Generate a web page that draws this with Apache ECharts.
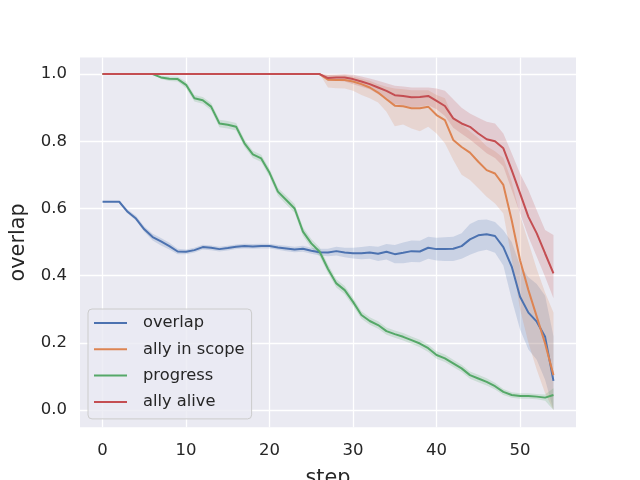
<!DOCTYPE html>
<html>
<head>
<meta charset="utf-8">
<script src="https://cdn.jsdelivr.net/npm/echarts@6/dist/echarts.min.js"></script>
<style>html,body{margin:0;padding:0;background:#fff}#c{width:640px;height:480px}</style>
</head>
<body>
<div id="c"></div>
<script>
const steps = [0,1,2,3,4,5,6,7,8,9,10,11,12,13,14,15,16,17,18,19,20,21,22,23,24,25,26,27,28,29,30,31,32,33,34,35,36,37,38,39,40,41,42,43,44,45,46,47,48,49,50,51,52,53,54];
const seriesNames = ['overlap','ally in scope','progress','ally alive'];
const xTicks = [0,10,20,30,40,50];
const yTicks = [0,0.2,0.4,0.6,0.8,1.0];

const overlap = [0.62,0.62,0.62,0.59,0.57,0.538,0.515,0.502,0.488,0.472,0.471,0.476,0.485,0.483,0.479,0.482,0.486,0.488,0.487,0.488,0.488,0.484,0.481,0.478,0.48,0.474,0.47,0.469,0.473,0.469,0.467,0.467,0.469,0.465,0.471,0.464,0.468,0.473,0.472,0.483,0.479,0.479,0.48,0.488,0.508,0.52,0.523,0.518,0.485,0.427,0.337,0.29,0.263,0.218,0.087];
const overlapLo = [0.62,0.62,0.62,0.585,0.564,0.53,0.505,0.49,0.478,0.464,0.464,0.469,0.478,0.476,0.472,0.475,0.479,0.481,0.48,0.481,0.481,0.477,0.473,0.47,0.471,0.465,0.46,0.458,0.46,0.455,0.451,0.449,0.45,0.444,0.448,0.437,0.437,0.441,0.44,0.45,0.445,0.444,0.444,0.45,0.462,0.472,0.477,0.468,0.43,0.33,0.24,0.18,0.15,0.09,0.0];
const overlapHi = [0.62,0.62,0.62,0.597,0.578,0.546,0.525,0.512,0.498,0.48,0.478,0.483,0.492,0.49,0.486,0.489,0.493,0.495,0.494,0.495,0.495,0.491,0.489,0.486,0.489,0.483,0.48,0.48,0.486,0.483,0.483,0.485,0.488,0.486,0.494,0.491,0.499,0.505,0.504,0.516,0.513,0.514,0.516,0.526,0.554,0.566,0.567,0.56,0.535,0.5,0.43,0.395,0.375,0.34,0.22];

const scope = [1,1,1,1,1,1,1,1,1,1,1,1,1,1,1,1,1,1,1,1,1,1,1,1,1,1,1,0.983,0.982,0.982,0.978,0.97,0.96,0.945,0.925,0.906,0.904,0.898,0.898,0.903,0.878,0.863,0.804,0.783,0.766,0.739,0.714,0.704,0.67,0.565,0.446,0.357,0.278,0.198,0.104];
const scopeLo = [1,1,1,1,1,1,1,1,1,1,1,1,1,1,1,1,1,1,1,1,1,1,1,1,1,1,1,0.96,0.958,0.957,0.95,0.938,0.928,0.915,0.888,0.845,0.85,0.838,0.83,0.843,0.823,0.794,0.744,0.7,0.685,0.66,0.635,0.615,0.585,0.45,0.3,0.2,0.12,0.05,0.0];
const scopeHi = [1,1,1,1,1,1,1,1,1,1,1,1,1,1,1,1,1,1,1,1,1,1,1,1,1,1,1,0.997,0.997,0.997,0.993,0.987,0.98,0.97,0.962,0.957,0.955,0.952,0.952,0.952,0.938,0.928,0.87,0.85,0.83,0.81,0.785,0.77,0.75,0.68,0.58,0.5,0.42,0.35,0.29];

const progress = [1,1,1,1,1,1,1,0.99,0.986,0.985,0.968,0.928,0.922,0.903,0.853,0.849,0.843,0.794,0.761,0.749,0.706,0.65,0.625,0.6,0.531,0.496,0.471,0.42,0.377,0.357,0.322,0.283,0.265,0.253,0.235,0.226,0.218,0.208,0.198,0.184,0.164,0.154,0.139,0.124,0.104,0.094,0.084,0.071,0.054,0.045,0.042,0.042,0.04,0.037,0.045];
const progressLo = [1,1,1,1,1,1,1,0.985,0.979,0.978,0.958,0.918,0.912,0.892,0.842,0.838,0.832,0.783,0.75,0.738,0.694,0.638,0.612,0.587,0.518,0.483,0.458,0.407,0.365,0.345,0.31,0.272,0.254,0.242,0.224,0.215,0.207,0.197,0.187,0.173,0.153,0.143,0.128,0.113,0.093,0.083,0.073,0.061,0.045,0.037,0.034,0.034,0.032,0.028,0.0];
const progressHi = [1,1,1,1,1,1,1,0.995,0.993,0.992,0.978,0.938,0.932,0.914,0.864,0.86,0.854,0.805,0.772,0.76,0.718,0.662,0.638,0.613,0.544,0.509,0.484,0.433,0.389,0.369,0.334,0.294,0.276,0.264,0.246,0.237,0.229,0.219,0.209,0.195,0.175,0.165,0.15,0.135,0.115,0.105,0.095,0.081,0.063,0.053,0.05,0.05,0.048,0.046,0.065];

const alive = [1,1,1,1,1,1,1,1,1,1,1,1,1,1,1,1,1,1,1,1,1,1,1,1,1,1,1,0.988,0.99,0.99,0.985,0.978,0.97,0.96,0.95,0.937,0.935,0.931,0.932,0.935,0.92,0.905,0.868,0.853,0.843,0.823,0.806,0.8,0.779,0.714,0.645,0.575,0.526,0.466,0.407];
const aliveLo = [1,1,1,1,1,1,1,1,1,1,1,1,1,1,1,1,1,1,1,1,1,1,1,1,1,1,1,0.98,0.98,0.978,0.97,0.962,0.955,0.94,0.925,0.91,0.907,0.902,0.903,0.907,0.895,0.875,0.84,0.822,0.805,0.785,0.764,0.75,0.725,0.655,0.585,0.516,0.456,0.397,0.333];
const aliveHi = [1,1,1,1,1,1,1,1,1,1,1,1,1,1,1,1,1,1,1,1,1,1,1,1,1,1,1,0.998,0.999,1.0,0.998,0.993,0.987,0.98,0.973,0.965,0.963,0.96,0.96,0.96,0.957,0.95,0.925,0.9,0.883,0.87,0.858,0.853,0.823,0.764,0.704,0.655,0.595,0.536,0.521];

const colors = ['#4C72B0','#DD8452','#55A868','#C44E52'];
const values = [overlap, scope, progress, alive];
const los = [overlapLo, scopeLo, progressLo, aliveLo];
const his = [overlapHi, scopeHi, progressHi, aliveHi];

const FONT = 'DejaVu Sans';
const series = [];
values.forEach((v, k) => {
  series.push({
    type: 'custom',
    silent: true,
    z: 1,
    clip: true,
    data: steps.map((s, i) => [s, v[i]]),
    renderItem: function (params, api) {
      if (params.dataIndex !== 0) return null;
      const pts = [];
      for (let i = 0; i < steps.length; i++) pts.push(api.coord([steps[i], his[k][i]]));
      for (let i = steps.length - 1; i >= 0; i--) pts.push(api.coord([steps[i], los[k][i]]));
      return { type: 'polygon', shape: { points: pts }, style: { fill: colors[k], opacity: 0.2 } };
    }
  });
});
values.forEach((v, k) => {
  series.push({
    name: seriesNames[k],
    type: 'line',
    z: 3,
    showSymbol: false,
    symbol: 'none',
    animation: false,
    color: colors[k],
    lineStyle: { width: 2, color: colors[k] },
    data: steps.map((s, i) => [s, v[i]])
  });
});

const chart = echarts.init(document.getElementById('c'));
chart.setOption({
  animation: false,
  backgroundColor: '#ffffff',
  textStyle: { fontFamily: FONT },
  grid: { left: 80, right: 64, top: 57.6, bottom: 52.8, show: true, backgroundColor: '#EAEAF2', borderWidth: 0, containLabel: false, outerBoundsMode: 'none' },
  xAxis: {
    type: 'value', min: -2.7, max: 56.7,
    name: 'step', nameLocation: 'middle', nameGap: 41,
    nameTextStyle: { fontFamily: FONT, fontSize: 20.8, color: '#262626' },
    axisLine: { show: false },
    axisTick: { show: false, customValues: xTicks },
    axisLabel: { customValues: xTicks, margin: 15, fontFamily: FONT, fontSize: 16.5, color: '#262626' },
    splitLine: { show: true, lineStyle: { color: '#ffffff', width: 1.3 } }
  },
  yAxis: {
    type: 'value', min: -0.051, max: 1.049,
    name: 'overlap', nameLocation: 'middle', nameGap: 51,
    nameTextStyle: { fontFamily: FONT, fontSize: 20.8, color: '#262626' },
    axisLine: { show: false },
    axisTick: { show: false, customValues: yTicks },
    axisLabel: { customValues: yTicks, margin: 13, fontFamily: FONT, fontSize: 16.5, color: '#262626', formatter: v => v.toFixed(1) },
    splitLine: { show: true, lineStyle: { color: '#ffffff', width: 1.3 } }
  },
  legend: {
    data: seriesNames.map(n => ({ name: n, icon: 'rect' })),
    orient: 'vertical',
    left: 88, top: 309,
    itemWidth: 33, itemHeight: 2,
    itemGap: 6.3,
    padding: [4, 7, 7, 6],
    backgroundColor: 'rgba(234,234,242,0.8)',
    borderColor: '#cccccc', borderWidth: 1, borderRadius: 4,
    selectedMode: false,
    textStyle: { fontFamily: FONT, fontSize: 16.3, color: '#262626', lineHeight: 20, padding: [0, 0, 0, 11] }
  },
  series: series
});
</script>
</body>
</html>
